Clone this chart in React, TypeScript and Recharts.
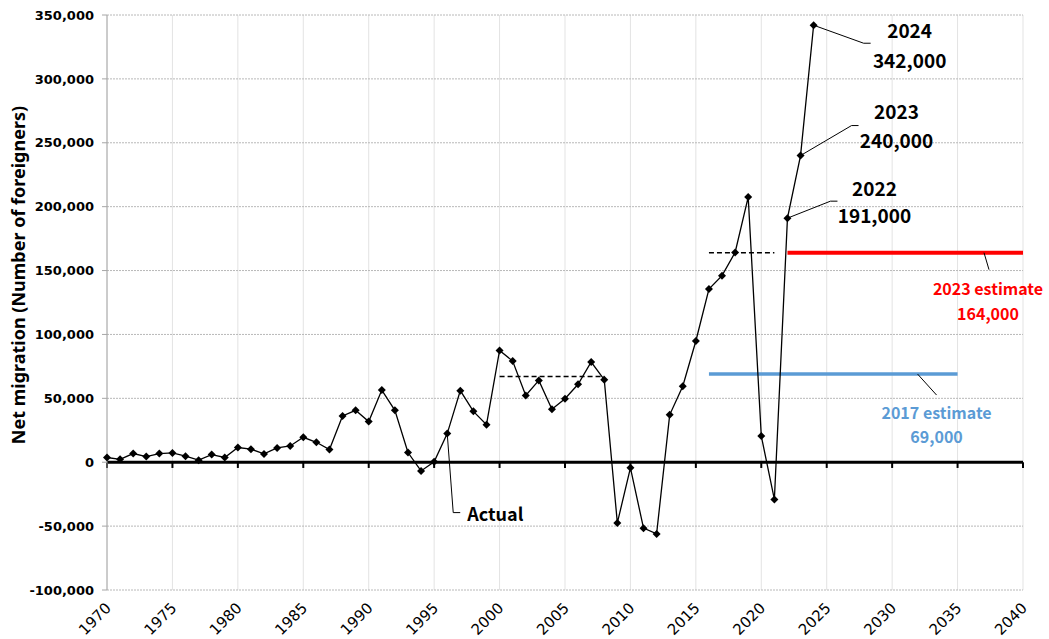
import { ComposedChart, Line, XAxis, YAxis, CartesianGrid, ReferenceLine } from 'recharts'

const YEARS = [
  1970, 1971, 1972, 1973, 1974, 1975, 1976, 1977, 1978, 1979,
  1980, 1981, 1982, 1983, 1984, 1985, 1986, 1987, 1988, 1989,
  1990, 1991, 1992, 1993, 1994, 1995, 1996, 1997, 1998, 1999,
  2000, 2001, 2002, 2003, 2004, 2005, 2006, 2007, 2008, 2009,
  2010, 2011, 2012, 2013, 2014, 2015, 2016, 2017, 2018, 2019,
  2020, 2021, 2022, 2023, 2024,
]

const NET_MIGRATION = [
  3700, 2300, 6800, 4400, 6800, 7300, 4700, 1600, 6000, 3700,
  11500, 10200, 6500, 11200, 12700, 19500, 15600, 9900, 36200, 40600,
  31800, 56500, 40600, 7600, -6800, 300, 22400, 56000, 39800, 29400,
  87500, 79200, 52300, 64000, 41400, 49700, 61000, 78400, 64600, -47500,
  -4400, -51600, -56100, 37100, 59500, 94900, 135500, 146000, 164200, 207500,
  20500, -29100, 191000, 240000, 342000,
]

const X_TICKS = [1970, 1975, 1980, 1985, 1990, 1995, 2000, 2005, 2010, 2015, 2020, 2025, 2030, 2035, 2040]
const Y_TICKS = [-100000, -50000, 0, 50000, 100000, 150000, 200000, 250000, 300000, 350000]

// dashed period averages
const AVG_2000S = [{ year: 2000, value: 67000 }, { year: 2008, value: 67000 }]
const AVG_2010S = [{ year: 2016, value: 164000 }, { year: 2021, value: 164000 }]

// projection assumptions
const EST_2023 = [{ year: 2022, value: 164000 }, { year: 2040, value: 164000 }]
const EST_2017 = [{ year: 2016, value: 69000 }, { year: 2035, value: 69000 }]

const actual = YEARS.map((year, i) => ({ year, value: NET_MIGRATION[i] }))

const fmt = (v: number) => v.toLocaleString('en-US')

const ANN_FONT = '"Noto Sans CJK JP", "Noto Sans", sans-serif'

// leader-line offsets (px) relative to the marked point
const CALLOUTS: Record<number, { elbow: [number, number]; end: [number, number]; tx: number; ty: [number, number] }> = {
  2022: { elbow: [43, -17], end: [50, -17], tx: 87, ty: [-31, -4] },
  2023: { elbow: [51, -30], end: [58, -30], tx: 96, ty: [-45, -16] },
  2024: { elbow: [50, 18], end: [57, 18], tx: 96, ty: [4, 34] },
}

const renderActualDot = (props: any) => {
  const { cx, cy, index, payload } = props
  const c = CALLOUTS[payload.year]
  return (
    <g key={`dot-${index}`}>
      <polygon points={`${cx},${cy - 4} ${cx + 4},${cy} ${cx},${cy + 4} ${cx - 4},${cy}`} fill="#000" />
      {c && (
        <g>
          <polyline
            points={`${cx},${cy} ${cx + c.elbow[0]},${cy + c.elbow[1]} ${cx + c.end[0]},${cy + c.end[1]}`}
            fill="none"
            stroke="#000"
            strokeWidth={1}
          />
          <text x={cx + c.tx} y={cy + c.ty[0]} textAnchor="middle" dominantBaseline="central"
            fontFamily={ANN_FONT} fontWeight="bold" fontSize={19} fill="#000">
            {payload.year}
          </text>
          <text x={cx + c.tx} y={cy + c.ty[1]} textAnchor="middle" dominantBaseline="central"
            fontFamily={ANN_FONT} fontWeight="bold" fontSize={19} fill="#000">
            {fmt(payload.value)}
          </text>
        </g>
      )}
      {payload.year === 1996 && (
        <g>
          <polyline points={`${cx},${cy} ${cx + 6},${cy + 79} ${cx + 13},${cy + 79}`} fill="none" stroke="#000" strokeWidth={1} />
          <text x={cx + 20} y={cy + 79} dominantBaseline="central"
            fontFamily={ANN_FONT} fontWeight="bold" fontSize={18} fill="#000">
            Actual
          </text>
        </g>
      )}
    </g>
  )
}

const estimateDot = (label: string, color: string, lead: [number, number, number, number], tx: number, ty: [number, number]) =>
  (props: any) => {
    const { cx, cy, index, payload } = props
    if (index !== 1) return <g key={`e-${index}`} />
    return (
      <g key={`e-${index}`}>
        <line x1={cx + lead[0]} y1={cy + lead[1]} x2={cx + lead[2]} y2={cy + lead[3]} stroke="#000" strokeWidth={1} />
        <text x={cx + tx} y={cy + ty[0]} textAnchor="middle" dominantBaseline="central"
          fontFamily={ANN_FONT} fontWeight="bold" fontSize={16} fill={color}>
          {label}
        </text>
        <text x={cx + tx} y={cy + ty[1]} textAnchor="middle" dominantBaseline="central"
          fontFamily={ANN_FONT} fontWeight="bold" fontSize={16} fill={color}>
          {fmt(payload.value)}
        </text>
      </g>
    )
  }

const XTick = (props: any) => {
  const { x, payload } = props
  const px = x + 5
  const py = 609
  return (
    <text x={px} y={py} transform={`rotate(-45 ${px} ${py})`} textAnchor="end"
      fontFamily='"DejaVu Sans", sans-serif' fontSize={15} fill="#000">
      {payload.value}
    </text>
  )
}

const YLabel = () => (
  <text x={18} y={275} transform="rotate(-90 18 275)" textAnchor="middle" dominantBaseline="central"
    fontFamily='"Noto Sans", sans-serif' fontWeight="bold" fontSize={18} fill="#000">
    Net migration (Number of foreigners)
  </text>
)

export default function App() {
  return (
    <div style={{ position: 'absolute', left: 0, top: 0, background: '#fff' }}>
      <ComposedChart width={1049} height={639} data={actual} margin={{ top: 15, right: 26, bottom: 0, left: 0 }}>
        <CartesianGrid horizontal={false} stroke="#e3e3e3" />
        <CartesianGrid vertical={false} stroke="#b8b8b8" strokeDasharray="2 1" />
        <XAxis
          type="number"
          dataKey="year"
          domain={[1970, 2040]}
          ticks={X_TICKS}
          interval={0}
          height={49}
          axisLine={false}
          tickLine={false}
          tick={<XTick />}
        />
        <YAxis
          type="number"
          domain={[-100000, 350000]}
          ticks={Y_TICKS}
          interval={0}
          width={107}
          axisLine={{ stroke: '#a6a6a6' }}
          tickLine={{ stroke: '#a6a6a6' }}
          tickSize={5}
          tickMargin={8}
          tickFormatter={fmt}
          tick={{ fontFamily: '"DejaVu Sans", sans-serif', fontWeight: 'bold', fontSize: 13, fill: '#000' }}
          label={<YLabel />}
        />
        <ReferenceLine y={0} stroke="#000" strokeWidth={3} />
        {X_TICKS.map((t) => (
          <ReferenceLine key={t} segment={[{ x: t, y: 0 }, { x: t, y: -4500 }]} stroke="#000" strokeWidth={2} />
        ))}
        <Line data={AVG_2000S} dataKey="value" stroke="#000" strokeWidth={1.5} strokeDasharray="5 3" dot={false} isAnimationActive={false} />
        <Line data={AVG_2010S} dataKey="value" stroke="#000" strokeWidth={1.5} strokeDasharray="5 3" dot={false} isAnimationActive={false} />
        <Line
          data={EST_2023}
          dataKey="value"
          stroke="#ff0000"
          strokeWidth={4}
          dot={estimateDot('2023 estimate', '#ff0000', [-39, 0, -34, 17], -35, [35, 60])}
          isAnimationActive={false}
        />
        <Line
          data={EST_2017}
          dataKey="value"
          stroke="#5b9bd5"
          strokeWidth={3.5}
          dot={estimateDot('2017 estimate', '#5b9bd5', [-40, 0, -21, 21], -21, [38, 62])}
          isAnimationActive={false}
        />
        <Line
          dataKey="value"
          stroke="#000"
          strokeWidth={1.3}
          dot={renderActualDot}
          activeDot={false}
          isAnimationActive={false}
        />
      </ComposedChart>
    </div>
  )
}
